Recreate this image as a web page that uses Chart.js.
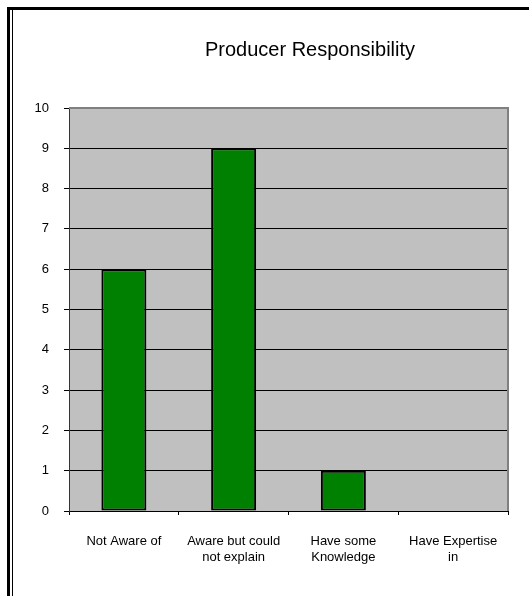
<!DOCTYPE html>
<html>
<head>
<meta charset="utf-8">
<script src="https://cdn.jsdelivr.net/npm/chart.js@4"></script>
<style>
  html, body { margin:0; padding:0; background:#fff; }
  #wrap { width:529px; height:596px; position:relative; }
</style>
</head>
<body>
<div id="wrap"><canvas id="awareChart" width="529" height="596"></canvas></div>
<script>
// chart data
const chartTitle = 'Producer Responsibility';
const categories = [['Not Aware of'], ['Aware but could', 'not explain'], ['Have some', 'Knowledge'], ['Have Expertise', 'in']];
const counts = [6, 9, 1, 0];
const yTicks = [0, 1, 2, 3, 4, 5, 6, 7, 8, 9, 10];

const FONT = 'Arial, "Liberation Sans", sans-serif';

// page frame, grey plot background, title
const framePlugin = {
  id: 'frame',
  beforeDraw(chart){
    const c = chart.ctx, a = chart.chartArea;
    c.save();
    c.fillStyle = '#fff';
    c.fillRect(0, 0, chart.width, chart.height);
    c.fillStyle = '#000';
    c.fillRect(7, 7, chart.width - 7, 3);   // top
    c.fillRect(7, 7, 3, chart.height - 7);  // left thick
    c.fillRect(12, 10, 1, chart.height - 10); // left thin
    c.fillStyle = '#c0c0c0';
    c.fillRect(a.left, a.top, a.right - a.left, a.bottom - a.top);
    c.fillStyle = '#000';
    c.font = '20px ' + FONT;
    c.textAlign = 'center';
    c.textBaseline = 'alphabetic';
    c.fillText(chartTitle, 310, 56);
    c.restore();
  },
  afterDatasetsDraw(chart){
    const c = chart.ctx, a = chart.chartArea;
    c.save();
    c.strokeStyle = '#808080';
    c.lineWidth = 2;
    c.beginPath();
    c.moveTo(a.left, a.top);
    c.lineTo(a.right, a.top);
    c.lineTo(a.right, a.bottom);
    c.stroke();
    c.restore();
  }
};

new Chart(document.getElementById('awareChart').getContext('2d'), {
  type: 'bar',
  data: {
    labels: categories,
    datasets: [{
      data: counts,
      backgroundColor: '#008000',
      borderColor: '#000',
      borderWidth: 2,
      borderSkipped: false,
      barPercentage: 0.41,
      categoryPercentage: 1
    }]
  },
  options: {
    responsive: false,
    animation: false,
    layout: { padding: { top: 108, right: 21, left: 0, bottom: 0 } },
    plugins: {
      legend: { display: false },
      title: { display: false },
      tooltip: { enabled: false }
    },
    scales: {
      x: {
        afterFit(s){ s.height = 85; },
        grid: { drawOnChartArea: false, drawTicks: true, tickLength: 4, color: '#000', offset: true },
        border: { color: '#000', width: 1 },
        ticks: { color: '#000', font: { family: FONT, size: 13 }, padding: 19, maxRotation: 0 }
      },
      y: {
        min: 0, max: 10,
        afterFit(s){ s.width = 69; },
        afterBuildTicks(s){ s.ticks = yTicks.map(v => ({ value: v })); },
        grid: { color: '#000', lineWidth: 1, tickLength: 5 },
        border: { color: '#333', width: 1 },
        ticks: { color: '#000', font: { family: FONT, size: 13 }, padding: 15 }
      }
    }
  },
  plugins: [framePlugin]
});
</script>
</body>
</html>
